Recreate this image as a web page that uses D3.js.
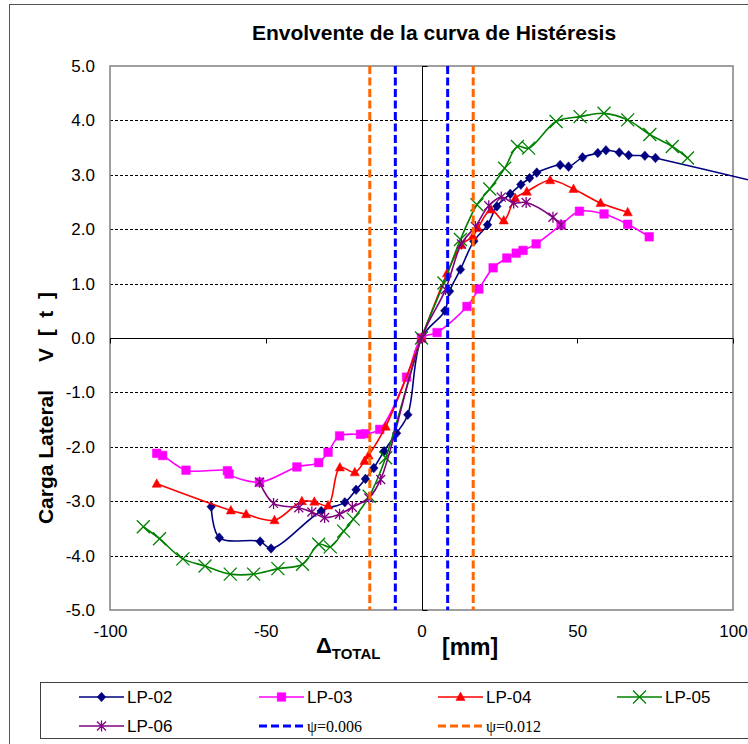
<!DOCTYPE html>
<html lang="es">
<head>
  <meta charset="utf-8" />
  <title>Envolvente de la curva de Histéresis</title>
  <script src="https://d3js.org/d3.v7.min.js"></script>
  <style>
    body { margin: 0; background: #fff; }
    svg { display: block; font-family: Arial, "Liberation Sans", sans-serif; }
    .grid line { stroke: #000; stroke-width: 1; stroke-dasharray: 3,2; }
    .tick text { font-size: 17px; fill: #000; }
  </style>
</head>
<body>
  <svg id="chart" width="748" height="744"></svg>
  <script>
    // datos [delta mm, V t]
    const lp02 = [[-67.5,-3.10],[-64.9,-3.67],[-51.8,-3.74],[-48.3,-3.87],[-32.2,-3.18],[-24.6,-3.02],
      [-21.0,-2.79],[-18.0,-2.59],[-15.3,-2.39],[-12.0,-2.08],[-8.0,-1.75],[-4.4,-1.41],[0,0],
      [7.5,0.50],[9.0,0.86],[12.5,1.26],[16.8,1.78],[21.2,2.08],[24.2,2.42],[28.5,2.65],[31.9,2.82],
      [34.7,2.94],[37.0,3.04],[44.5,3.18],[47.2,3.15],[51.7,3.32],[56.6,3.40],[59.2,3.45],[63.5,3.41],
      [66.5,3.36],[71.7,3.35],[75.1,3.31],[107,2.88]];
    const lp03 = [[-85.0,-2.12],[-83.1,-2.16],[-75.6,-2.43],[-62.3,-2.44],[-61.8,-2.50],[-52.0,-2.65],
      [-40.0,-2.37],[-33.0,-2.29],[-30.0,-2.10],[-26.3,-1.80],[-19.6,-1.77],[-18.0,-1.76],[-13.4,-1.68],
      [-4.8,-0.72],[0,0],[5.0,0.10],[14.6,0.58],[18.4,0.90],[23.0,1.29],[27.4,1.47],[30.4,1.56],
      [32.6,1.61],[36.8,1.73],[44.8,2.08],[50.7,2.33],[58.6,2.28],[66.2,2.09],[73.1,1.86]];
    const lp04 = [[-85.0,-2.68],[-61.2,-3.17],[-56.3,-3.24],[-47.2,-3.35],[-38.4,-3.00],[-34.4,-3.01],
      [-30.0,-3.08],[-26.2,-2.38],[-21.4,-2.47],[-18.3,-2.26],[-17.0,-2.16],[-11.5,-1.63],[0,0],
      [8.2,1.19],[12.8,1.71],[16.5,1.87],[18.1,2.02],[22.3,2.36],[26.4,2.16],[30.1,2.57],[33.8,2.69],
      [41.3,2.90],[48.8,2.74],[57.5,2.48],[66.2,2.31]];
    const lp05 = [[-89.3,-3.47],[-84.1,-3.69],[-76.6,-4.06],[-69.5,-4.19],[-61.4,-4.34],[-53.9,-4.34],
      [-46.1,-4.24],[-38.2,-4.16],[-33.0,-3.79],[-29.3,-3.84],[-25.0,-3.55],[-21.9,-3.33],[-16.8,-2.91],
      [-11.5,-2.20],[0,0],[7.2,1.01],[12.5,1.81],[17.8,2.45],[21.9,2.74],[26.7,3.12],[30.8,3.52],
      [34.4,3.49],[43.2,3.98],[50.9,4.07],[58.6,4.13],[66.2,4.01],[73.3,3.74],[80.5,3.52],[85.4,3.31]];
    const lp06 = [[-52.0,-2.65],[-47.5,-3.04],[-39.4,-3.12],[-35.2,-3.20],[-31.1,-3.30],[-26.3,-3.24],
      [-22.2,-3.11],[-16.9,-2.94],[-13.1,-2.60],[0,0],[7.7,0.89],[12.8,1.73],[17.3,2.05],[21.6,2.43],
      [25.6,2.59],[29.6,2.48],[33.6,2.49],[42.2,2.22],[44.8,2.08]];
    const psi006 = [-8.4, 8.4];
    const psi012 = [-16.6, 16.6];
    const xTicks = [-100, -50, 0, 50, 100];
    const yTicks = [-5, -4, -3, -2, -1, 0, 1, 2, 3, 4, 5];

    const series = [
      { name: "LP-02", data: lp02, color: "#000080", marker: "diamond" },
      { name: "LP-03", data: lp03, color: "#FF00FF", marker: "square" },
      { name: "LP-04", data: lp04, color: "#FF0000", marker: "triangle" },
      { name: "LP-05", data: lp05, color: "#008000", marker: "cross" },
      { name: "LP-06", data: lp06, color: "#800080", marker: "star" }
    ];
    const limits = [
      { name: "\u03c8=0.006", data: psi006, color: "#0000FF" },
      { name: "\u03c8=0.012", data: psi012, color: "#FF6600" }
    ];

    const plot = { left: 110, right: 733, top: 66, bottom: 610 };
    const x = d3.scaleLinear().domain([-100, 100]).range([plot.left, plot.right]);
    const y = d3.scaleLinear().domain([-5, 5]).range([plot.bottom, plot.top]);

    // guion normal en lugar del signo menos tipografico
    const fmtY = d => d3.format(".1f")(d).replace("\u2212", "-");
    const fmtX = d => d3.format("d")(d).replace("\u2212", "-");

    const svg = d3.select("#chart");
    svg.append("rect").attr("width", 748).attr("height", 744).attr("fill", "#fff");
    // marco del grafico (recortado a la derecha y abajo)
    svg.append("rect")
      .attr("x", 9.5).attr("y", 4.5).attr("width", 760).attr("height", 760)
      .attr("fill", "none").attr("stroke", "#555").attr("stroke-width", 1);

    svg.append("text")
      .attr("x", 434).attr("y", 40)
      .attr("text-anchor", "middle")
      .style("font-size", "21px").style("font-weight", "bold")
      .text("Envolvente de la curva de Histéresis");

    // lineas de division horizontales
    svg.append("g").attr("class", "grid")
      .selectAll("line")
      .data(yTicks.filter(v => v !== 0 && Math.abs(v) !== 5))
      .join("line")
      .attr("x1", plot.left).attr("x2", plot.right)
      .attr("y1", d => Math.round(y(d)) + 0.5).attr("y2", d => Math.round(y(d)) + 0.5);

    svg.append("rect")
      .attr("x", plot.left).attr("y", plot.top)
      .attr("width", plot.right - plot.left).attr("height", plot.bottom - plot.top)
      .attr("fill", "none").attr("stroke", "#808080").attr("stroke-width", 1.5);

    // etiquetas de los ejes
    const yAxis = svg.append("g")
      .attr("transform", `translate(${plot.left},0)`)
      .call(d3.axisLeft(y).tickValues(yTicks).tickFormat(fmtY).tickSize(0).tickPadding(15));
    const xAxis = svg.append("g")
      .attr("transform", `translate(0,${plot.bottom})`)
      .call(d3.axisBottom(x).tickValues(xTicks).tickFormat(fmtX).tickSize(0).tickPadding(15));
    yAxis.select(".domain").remove();
    xAxis.select(".domain").remove();

    // ejes que cruzan en cero
    const zx = Math.round(x(0)) + 0.5, zy = Math.round(y(0)) + 0.5;
    svg.append("line").attr("x1", plot.left).attr("x2", plot.right).attr("y1", zy).attr("y2", zy)
      .attr("stroke", "#000").attr("stroke-width", 1);
    svg.append("line").attr("x1", zx).attr("x2", zx).attr("y1", plot.top).attr("y2", plot.bottom)
      .attr("stroke", "#000").attr("stroke-width", 1);
    svg.append("g").selectAll("line").data(xTicks).join("line")
      .attr("x1", d => Math.round(x(d)) + 0.5).attr("x2", d => Math.round(x(d)) + 0.5)
      .attr("y1", zy).attr("y2", zy + 5).attr("stroke", "#000");
    svg.append("g").selectAll("line").data(yTicks).join("line")
      .attr("x1", zx).attr("x2", zx + 5)
      .attr("y1", d => Math.round(y(d)) + 0.5).attr("y2", d => Math.round(y(d)) + 0.5).attr("stroke", "#000");

    // titulos de ejes
    const yTitle = svg.append("g").attr("transform", "translate(53,0) rotate(-90)")
      .style("font-size", "21px").style("font-weight", "bold").attr("text-anchor", "middle");
    yTitle.append("text").attr("x", -457).text("Carga Lateral");
    yTitle.append("text").attr("x", -327).attr("xml:space", "preserve").style("white-space", "pre").text("V  [  t  ]");

    const xTitle = svg.append("text").attr("y", 653).style("font-weight", "bold");
    xTitle.append("tspan").attr("x", 316).style("font-size", "22px").text("\u0394");
    xTitle.append("tspan").attr("dy", 6).style("font-size", "15px").text("TOTAL");
    svg.append("text").attr("x", 442).attr("y", 655)
      .style("font-weight", "bold").style("font-size", "23px").text("[mm]");

    function markerPath(type) {
      switch (type) {
        case "diamond": return "M0,-4.8L4.3,0L0,4.8L-4.3,0Z";
        case "square": return "M-4.3,-4.3H4.3V4.3H-4.3Z";
        case "triangle": return "M0,-5L4.6,3.5H-4.6Z";
        case "cross": return "M-6.5,-6.5L6.5,6.5M-6.5,6.5L6.5,-6.5";
        case "star": return "M-4.5,-4.5L4.5,4.5M-4.5,4.5L4.5,-4.5M0,-5.5V5.5";
      }
    }
    const filled = t => t === "diamond" || t === "square" || t === "triangle";

    const line = d3.line()
      .x(d => x(d[0])).y(d => y(d[1]))
      .curve(d3.curveCatmullRom.alpha(0.5));

    const gSeries = svg.append("g");
    series.forEach(s => {
      const g = gSeries.append("g");
      g.append("path")
        .datum(s.data)
        .attr("d", line)
        .attr("fill", "none").attr("stroke", s.color).attr("stroke-width", 1.6);
      g.selectAll("path.mk")
        .data(s.data.slice(0, s.name === "LP-02" ? -1 : undefined))
        .join("path")
        .attr("class", "mk")
        .attr("transform", d => `translate(${x(d[0])},${y(d[1])})`)
        .attr("d", markerPath(s.marker))
        .attr("fill", filled(s.marker) ? s.color : "none")
        .attr("stroke", s.color)
        .attr("stroke-width", filled(s.marker) ? 0.5 : 1.3);
    });

    // limites de deriva
    limits.forEach(l => {
      svg.append("g").selectAll("line").data(l.data).join("line")
        .attr("x1", d => x(d)).attr("x2", d => x(d))
        .attr("y1", y(5)).attr("y2", y(-5))
        .attr("stroke", l.color).attr("stroke-width", 3).attr("stroke-dasharray", "8,3.5");
    });

    // leyenda
    svg.append("rect")
      .attr("x", 40.5).attr("y", 682.5).attr("width", 740).attr("height", 56)
      .attr("fill", "#fff").attr("stroke", "#404040").attr("stroke-width", 1);
    const cols = [79, 259, 438, 617];
    const rows = [697, 726];
    const entries = series.map(s => ({ ...s, dashed: false })).concat(limits.map(l => ({ ...l, dashed: true })));
    const legend = svg.append("g")
      .selectAll("g")
      .data(entries)
      .join("g")
      .attr("transform", (d, i) => `translate(${cols[i % 4]},${rows[Math.floor(i / 4)]})`);
    legend.append("line")
      .attr("x1", 0).attr("x2", 45)
      .attr("stroke", d => d.color)
      .attr("stroke-width", d => d.dashed ? 3 : 1.6)
      .attr("stroke-dasharray", d => d.dashed ? "8,4" : null);
    legend.filter(d => !d.dashed).append("path")
      .attr("transform", "translate(22.5,0)")
      .attr("d", d => markerPath(d.marker))
      .attr("fill", d => filled(d.marker) ? d.color : "none")
      .attr("stroke", d => d.color)
      .attr("stroke-width", d => filled(d.marker) ? 0.5 : 1.3);
    legend.append("text")
      .attr("x", 48).attr("y", 6)
      .style("font-size", d => d.dashed ? "16px" : "17px")
      .style("font-family", d => d.dashed ? "'Liberation Serif', 'Times New Roman', serif" : null)
      .text(d => d.name);
  </script>
</body>
</html>
